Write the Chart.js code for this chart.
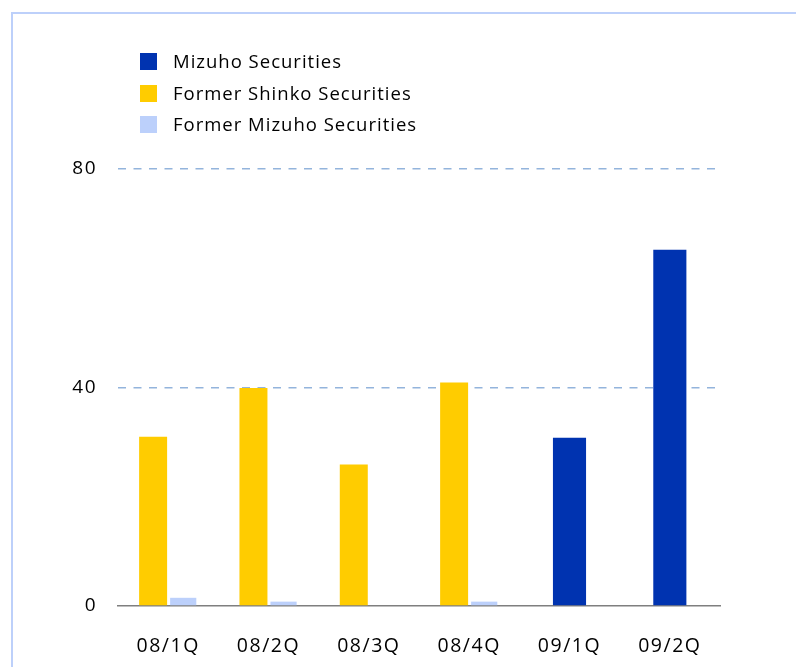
<!DOCTYPE html>
<html>
<head>
<meta charset="utf-8">
<script src="https://cdn.jsdelivr.net/npm/chart.js@4/dist/chart.umd.min.js"></script>
<style>
  html, body { margin: 0; padding: 0; background: #ffffff; }
  #wrap { position: relative; width: 796px; height: 667px; overflow: hidden; }
  #frame { position: absolute; left: 11px; top: 12px; width: 800px; height: 700px;
           border-left: 2px solid #bdd0fa; border-top: 2px solid #bdd0fa; }
  canvas { position: absolute; left: 0; top: 0; }
  #legend { position: absolute; left: 140px; top: 53px; font-family: "Open Sans", sans-serif;
            font-size: 18.5px; color: #000; }
  .item { position: relative; height: 31.5px; }
  .sw { position: absolute; left: 0; top: 0; width: 17px; height: 17px; }
  .lb { position: absolute; left: 33px; top: -4px; white-space: nowrap; letter-spacing: 1px; line-height: 24px; }
</style>
</head>
<body>
<div id="wrap">
  <div id="frame"></div>
  <canvas id="c" width="796" height="667"></canvas>
  <div id="legend"></div>
</div>
<script>
const categories = ['08/1Q', '08/2Q', '08/3Q', '08/4Q', '09/1Q', '09/2Q'];
const seriesNames = ['Mizuho Securities', 'Former Shinko Securities', 'Former Mizuho Securities'];
const mizuho = [null, null, null, null, 30.8, 65.2];
const shinko = [31.0, 39.9, 25.9, 40.9, null, null];
const formerMizuho = [1.5, 0.8, 0, 0.8, null, null];
const yTicks = [0, 40, 80];

const colors = ['#0033b0', '#ffcc00', '#bcd0fb'];

const spacingPlugin = {
  id: 'spacing',
  beforeDraw(chart) { chart.ctx.letterSpacing = '1.5px'; }
};

const chart = new Chart(document.getElementById('c'), {
  type: 'bar',
  data: {
    labels: categories,
    datasets: [
      { label: seriesNames[0], data: mizuho, backgroundColor: colors[0], barPercentage: 0.55 },
      { label: seriesNames[1], data: shinko, backgroundColor: colors[1], barPercentage: 0.93 },
      { label: seriesNames[2], data: formerMizuho, backgroundColor: colors[2], barPercentage: 0.87 }
    ]
  },
  options: {
    responsive: false,
    devicePixelRatio: 1,
    animation: false,
    skipNull: true,
    categoryPercentage: 0.6,
    layout: { padding: { top: 169, right: 76, bottom: 0, left: 0 } },
    plugins: { legend: { display: false }, tooltip: { enabled: false }, title: { display: false } },
    scales: {
      x: {
        grid: { display: false, drawTicks: false },
        border: { display: true, color: '#7f7f7f', width: 1.5 },
        ticks: { color: '#000000', padding: 29, font: { family: 'Open Sans', size: 19.5 } },
        afterFit(scale) { scale.height = 61; }
      },
      y: {
        min: 0, max: 80,
        afterBuildTicks(scale) { scale.ticks = yTicks.map(v => ({ value: v })); },
        grid: {
          drawTicks: false,
          color: ctx => (ctx.tick && ctx.tick.value === 0) ? 'rgba(0,0,0,0)' : '#93b4dc',
          lineWidth: 1.5
        },
        border: { display: false, dash: [8, 7.5] },
        ticks: { color: '#000000', padding: 21, font: { family: 'Open Sans', size: 19 } },
        afterFit(scale) { scale.width = 118; }
      }
    }
  },
  plugins: [spacingPlugin]
});

const legend = document.getElementById('legend');
chart.data.datasets.forEach(ds => {
  const it = document.createElement('div');
  it.className = 'item';
  const sw = document.createElement('div');
  sw.className = 'sw';
  sw.style.background = ds.backgroundColor;
  const lb = document.createElement('div');
  lb.className = 'lb';
  lb.textContent = ds.label;
  it.appendChild(sw); it.appendChild(lb);
  legend.appendChild(it);
});
</script>
</body>
</html>
